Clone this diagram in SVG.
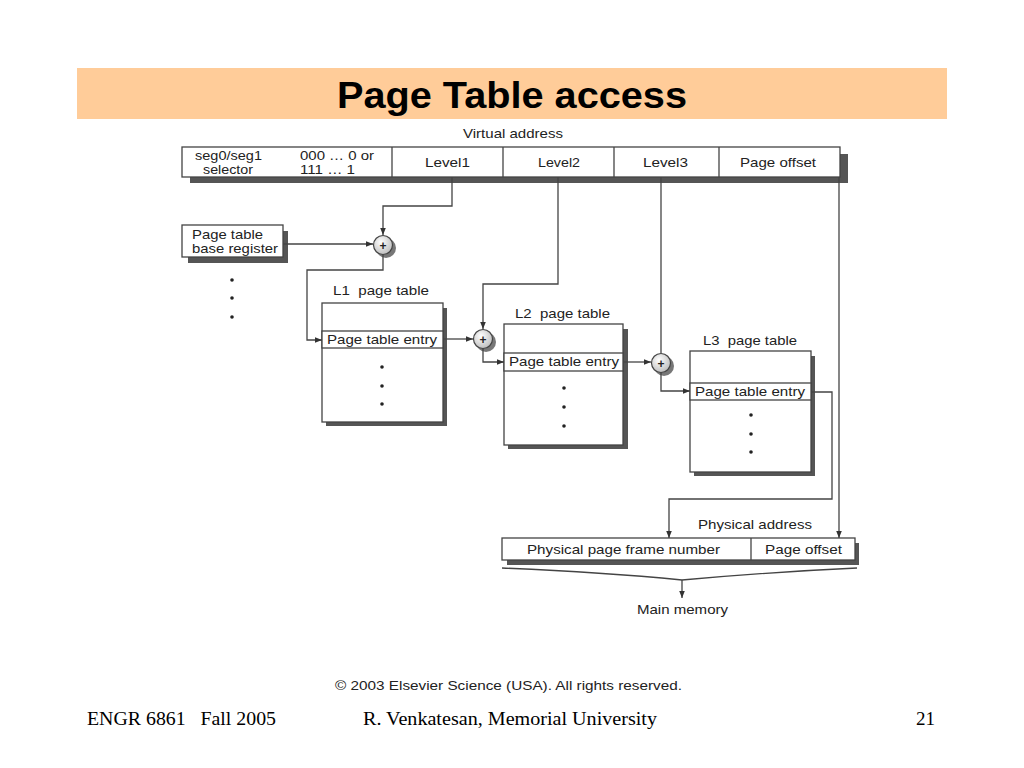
<svg xmlns="http://www.w3.org/2000/svg" width="1024" height="768" viewBox="0 0 1024 768">
<defs>
<style>
.t{font-family:"Liberation Sans",Arial,sans-serif;font-size:13.5px;fill:#222}
.ft{font-family:"Liberation Serif","Times New Roman",serif;font-size:19px;fill:#000}
.box{fill:#fff;stroke:#444;stroke-width:1.3}
.sh{fill:#555}
.ln{fill:none;stroke:#444;stroke-width:1.3}
.dot{fill:#222}
</style>
<marker id="ah" viewBox="0 0 10 10" refX="10" refY="5" markerWidth="7" markerHeight="7" orient="auto" markerUnits="userSpaceOnUse">
<path d="M0,1 L10,5 L0,9 z" fill="#333"/>
</marker>
<radialGradient id="cg" cx="0.4" cy="0.35" r="0.7">
<stop offset="0" stop-color="#fff"/>
<stop offset="1" stop-color="#bbb"/>
</radialGradient>
</defs>
<rect width="1024" height="768" fill="#fff"/>

<g id="title">
<rect x="77" y="68" width="870" height="51" fill="#FFCC99"/>
<text x="337" y="108" textLength="350" lengthAdjust="spacingAndGlyphs" font-family="Liberation Sans,Arial,sans-serif" font-weight="bold" font-size="36" fill="#000">Page Table access</text>
</g>

<g id="virtual-address">
<text class="t" x="463" y="138" textLength="100" lengthAdjust="spacingAndGlyphs">Virtual address</text>
<rect class="sh" x="190" y="154" width="658" height="29"/>
<rect class="box" x="182" y="147" width="658" height="30"/>
<line class="ln" x1="392" y1="147" x2="392" y2="177"/>
<line class="ln" x1="503" y1="147" x2="503" y2="177"/>
<line class="ln" x1="614" y1="147" x2="614" y2="177"/>
<line class="ln" x1="719" y1="147" x2="719" y2="177"/>
<text class="t" x="195" y="160" textLength="67" lengthAdjust="spacingAndGlyphs">seg0/seg1</text>
<text class="t" x="203" y="174" textLength="50" lengthAdjust="spacingAndGlyphs">selector</text>
<text class="t" x="300" y="160" textLength="74" lengthAdjust="spacingAndGlyphs">000 … 0 or</text>
<text class="t" x="300" y="174" textLength="55" lengthAdjust="spacingAndGlyphs">111 … 1</text>
<text class="t" x="425" y="167" textLength="45" lengthAdjust="spacingAndGlyphs">Level1</text>
<text class="t" x="538" y="167" textLength="42" lengthAdjust="spacingAndGlyphs">Level2</text>
<text class="t" x="643" y="167" textLength="45" lengthAdjust="spacingAndGlyphs">Level3</text>
<text class="t" x="740" y="167" textLength="76" lengthAdjust="spacingAndGlyphs">Page offset</text>
</g>

<g id="base-register">
<rect class="sh" x="188" y="231" width="100" height="32"/>
<rect class="box" x="182" y="225" width="101" height="32"/>
<text class="t" x="192" y="239" textLength="71" lengthAdjust="spacingAndGlyphs">Page table</text>
<text class="t" x="192" y="253" textLength="86" lengthAdjust="spacingAndGlyphs">base register</text>
<circle class="dot" cx="232" cy="280" r="1.8"/>
<circle class="dot" cx="232" cy="298" r="1.8"/>
<circle class="dot" cx="232" cy="317" r="1.8"/>
</g>

<g id="adder1">
<circle cx="386" cy="248" r="10" fill="#777"/>
<circle cx="383" cy="245" r="9.5" fill="url(#cg)" stroke="#444" stroke-width="1.2"/>
<text x="383" y="249.5" text-anchor="middle" font-family="Liberation Sans,Arial,sans-serif" font-size="12" font-weight="bold" fill="#222">+</text>
</g>

<g id="l1-table">
<text class="t" x="333" y="295" textLength="96" lengthAdjust="spacingAndGlyphs" xml:space="preserve">L1  page table</text>
<rect class="sh" x="326" y="308" width="121" height="118"/>
<rect class="box" x="322" y="303" width="121" height="119"/>
<rect class="box" x="322" y="331" width="121" height="17"/>
<text class="t" x="327" y="344" textLength="110" lengthAdjust="spacingAndGlyphs">Page table entry</text>
<circle class="dot" cx="382" cy="367" r="1.8"/>
<circle class="dot" cx="382" cy="386" r="1.8"/>
<circle class="dot" cx="382" cy="404" r="1.8"/>
</g>

<g id="adder2">
<circle cx="486" cy="342" r="10" fill="#777"/>
<circle cx="483" cy="339" r="9.5" fill="url(#cg)" stroke="#444" stroke-width="1.2"/>
<text x="483" y="343.5" text-anchor="middle" font-family="Liberation Sans,Arial,sans-serif" font-size="12" font-weight="bold" fill="#222">+</text>
</g>

<g id="l2-table">
<text class="t" x="515" y="318" textLength="95" lengthAdjust="spacingAndGlyphs" xml:space="preserve">L2  page table</text>
<rect class="sh" x="508" y="329" width="120" height="120"/>
<rect class="box" x="504" y="324" width="119" height="121"/>
<rect class="box" x="504" y="353" width="119" height="18"/>
<text class="t" x="509" y="366" textLength="110" lengthAdjust="spacingAndGlyphs">Page table entry</text>
<circle class="dot" cx="564" cy="388" r="1.8"/>
<circle class="dot" cx="564" cy="407" r="1.8"/>
<circle class="dot" cx="564" cy="426" r="1.8"/>
</g>

<g id="adder3">
<circle cx="664" cy="366" r="10" fill="#777"/>
<circle cx="661" cy="363" r="9.5" fill="url(#cg)" stroke="#444" stroke-width="1.2"/>
<text x="661" y="367.5" text-anchor="middle" font-family="Liberation Sans,Arial,sans-serif" font-size="12" font-weight="bold" fill="#222">+</text>
</g>

<g id="l3-table">
<text class="t" x="703" y="345" textLength="94" lengthAdjust="spacingAndGlyphs" xml:space="preserve">L3  page table</text>
<rect class="sh" x="694" y="356" width="121" height="120"/>
<rect class="box" x="690" y="351" width="121" height="121"/>
<rect class="box" x="690" y="383" width="121" height="17"/>
<text class="t" x="695" y="396" textLength="110" lengthAdjust="spacingAndGlyphs">Page table entry</text>
<circle class="dot" cx="751" cy="415" r="1.8"/>
<circle class="dot" cx="751" cy="434" r="1.8"/>
<circle class="dot" cx="751" cy="452" r="1.8"/>
</g>

<g id="physical-address">
<text class="t" x="698" y="529" textLength="114" lengthAdjust="spacingAndGlyphs">Physical address</text>
<rect class="sh" x="507" y="543" width="352" height="22"/>
<rect class="box" x="502" y="538" width="353" height="22"/>
<line class="ln" x1="751" y1="538" x2="751" y2="560"/>
<text class="t" x="527" y="554" textLength="193" lengthAdjust="spacingAndGlyphs">Physical page frame number</text>
<text class="t" x="765" y="554" textLength="77" lengthAdjust="spacingAndGlyphs">Page offset</text>
</g>

<g id="main-memory">
<text class="t" x="637" y="614" textLength="91" lengthAdjust="spacingAndGlyphs">Main memory</text>
</g>

<g id="connectors">
<path class="ln" d="M452,177 V206 H383 V235" marker-end="url(#ah)"/>
<path class="ln" d="M283,244 H373" marker-end="url(#ah)"/>
<path class="ln" d="M383,254.5 V270 H307 V340 H322" marker-end="url(#ah)"/>
<path class="ln" d="M558,177 V284 H483 V329" marker-end="url(#ah)"/>
<path class="ln" d="M443,339 H473" marker-end="url(#ah)"/>
<path class="ln" d="M483,348.5 V362 H504" marker-end="url(#ah)"/>
<path class="ln" d="M661,177 V353" />
<path class="ln" d="M623,362 H651" marker-end="url(#ah)"/>
<path class="ln" d="M661,372.5 V391 H690" marker-end="url(#ah)"/>
<path class="ln" d="M811,392 H832 V499 H669 V538" marker-end="url(#ah)"/>
<path class="ln" d="M839,177 V538" marker-end="url(#ah)"/>
<path class="ln" d="M502,568 Q600,572 682,580 Q770,572 857,568"/>
<path class="ln" d="M682,580 V598" marker-end="url(#ah)"/>
</g>

<g id="footer">
<text class="t" x="335" y="690" textLength="347" lengthAdjust="spacingAndGlyphs" font-size="12">© 2003 Elsevier Science (USA). All rights reserved.</text>
<text class="ft" x="87" y="725" textLength="189" lengthAdjust="spacingAndGlyphs" xml:space="preserve">ENGR 6861   Fall 2005</text>
<text class="ft" x="363" y="725" textLength="294" lengthAdjust="spacingAndGlyphs">R. Venkatesan, Memorial University</text>
<text class="ft" x="935" y="725" text-anchor="end">21</text>
</g>
</svg>
